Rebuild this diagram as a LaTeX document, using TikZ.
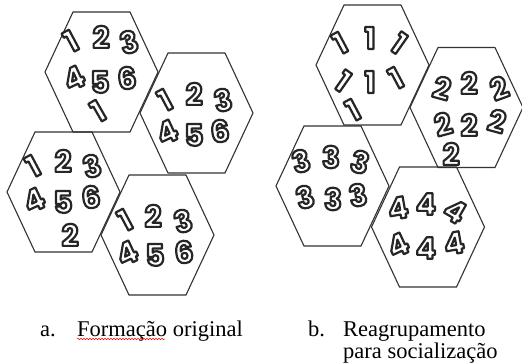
\documentclass[tikz,border=0pt]{standalone}
\usepackage{fontspec}
\setmainfont{Liberation Serif}
\newfontfamily\digitfont{Poppins}
\usetikzlibrary{decorations.pathmorphing}
\newcommand\dg[1]{\special{pdf:literal direct 0.15 G 2.2 w 1 j 2 Tr}#1\special{pdf:literal direct 0 Tr}}
\newcommand\hexa[2]{\draw[hexline, shift={(#1,#2)}] (-56.5,0) -- (-28.5,-60) -- (28.5,-60) -- (56.5,0) -- (28.5,60) -- (-28.5,60) -- cycle;}
\tikzset{
  hexline/.style={draw=black!80, line width=1.1pt, line join=miter},
  digit/.style={inner sep=0pt, text=white, font=\digitfont\bfseries\fontsize{30}{30}\selectfont},
  caption/.style={inner sep=0pt, anchor=base west, font=\fontsize{22.5}{22}\selectfont}
}
\begin{document}
\begin{tikzpicture}[x=1pt,y=-1pt]
\useasboundingbox[fill=white] (0,0) rectangle (522,363);
% left panel hexagons
\hexa{101.5}{72}
\hexa{196.5}{113}
\hexa{63.5}{192}
\hexa{157.5}{235}
% right panel hexagons
\hexa{372.5}{65}
\hexa{466.5}{107.5}
\hexa{332.5}{186}
\hexa{428}{227}
% hex A digits
\node[digit, rotate=28] (a1) at (71,41) {\dg{1}};
\node[digit] (a2) at (101,37) {\dg{2}};
\node[digit, rotate=15] (a3) at (129,42) {\dg{3}};
\node[digit, rotate=25] (a4) at (74,78) {\dg{4}};
\node[digit] (a5) at (100,82) {\dg{5}};
\node[digit, rotate=5] (a6) at (127,78) {\dg{6}};
\node[digit, rotate=30] (a7) at (98,111) {\dg{1}};
% hex B digits
\node[digit, rotate=28] (b1) at (165,100) {\dg{1}};
\node[digit] (b2) at (194,94) {\dg{2}};
\node[digit, rotate=12] (b3) at (223,100) {\dg{3}};
\node[digit, rotate=25] (b4) at (167,132) {\dg{4}};
\node[digit] (b5) at (194,135) {\dg{5}};
\node[digit, rotate=5] (b6) at (220,131) {\dg{6}};
% hex C digits
\node[digit, rotate=28] (c1) at (33,166) {\dg{1}};
\node[digit] (c2) at (63,161) {\dg{2}};
\node[digit, rotate=15] (c3) at (92,166) {\dg{3}};
\node[digit, rotate=25] (c4) at (34,200) {\dg{4}};
\node[digit] (c5) at (63,202) {\dg{5}};
\node[digit, rotate=5] (c6) at (91,197) {\dg{6}};
\node[digit] (c7) at (70,235) {\dg{2}};
% hex D digits
\node[digit, rotate=28] (d1) at (125,220) {\dg{1}};
\node[digit] (d2) at (153,216) {\dg{2}};
\node[digit, rotate=15] (d3) at (183,221) {\dg{3}};
\node[digit, rotate=25] (d4) at (127,253) {\dg{4}};
\node[digit] (d5) at (155,255) {\dg{5}};
\node[digit, rotate=5] (d6) at (184,252) {\dg{6}};
% hex E digits (ones)
\node[digit, rotate=28] (e1) at (340,43) {\dg{1}};
\node[digit] (e2) at (370,38) {\dg{1}};
\node[digit, rotate=-35] (e3) at (399,43) {\dg{1}};
\node[digit, rotate=-35] (e4) at (343,81) {\dg{1}};
\node[digit] (e5) at (370,82) {\dg{1}};
\node[digit, rotate=28] (e6) at (396,78) {\dg{1}};
\node[digit, rotate=28] (e7) at (353,110) {\dg{1}};
% hex F digits (twos)
\node[digit, rotate=-15] (f1) at (442,88) {\dg{2}};
\node[digit] (f2) at (469,83) {\dg{2}};
\node[digit, rotate=20] (f3) at (499,88) {\dg{2}};
\node[digit, rotate=15] (f4) at (443,124) {\dg{2}};
\node[digit] (f5) at (469,125) {\dg{2}};
\node[digit, rotate=-15] (f6) at (497,121) {\dg{2}};
\node[digit] (f7) at (451,154) {\dg{2}};
% hex G digits (threes)
\node[digit, rotate=15] (g1) at (301,161) {\dg{3}};
\node[digit] (g2) at (331,157) {\dg{3}};
\node[digit, rotate=-15] (g3) at (360,162) {\dg{3}};
\node[digit, rotate=15] (g4) at (305,197) {\dg{3}};
\node[digit] (g5) at (333,199) {\dg{3}};
\node[digit, rotate=10] (g6) at (358,195) {\dg{3}};
% hex H digits (fours)
\node[digit, rotate=10] (h1) at (398,208) {\dg{4}};
\node[digit] (h2) at (426,204) {\dg{4}};
\node[digit, rotate=-30] (h3) at (455,211) {\dg{4}};
\node[digit, rotate=25] (h4) at (398,245) {\dg{4}};
\node[digit] (h5) at (426,248) {\dg{4}};
\node[digit, rotate=10] (h6) at (454,243) {\dg{4}};
% captions
\node[caption] (la) at (40,336) {a.};
\node[caption] (lat) at (77,336) {Formação original};
\draw[red, line width=0.5pt, decorate, decoration={snake, amplitude=0.7pt, segment length=3pt}]
  ([yshift=-3pt]lat.base west) -- ([xshift=88pt,yshift=-3pt]lat.base west);
\node[caption] (lb) at (308,336) {b.};
\node[caption] (lbt) at (343,336) {Reagrupamento};
\node[caption] (lbt2) at (343,358) {para socialização};
\end{tikzpicture}
\end{document}
